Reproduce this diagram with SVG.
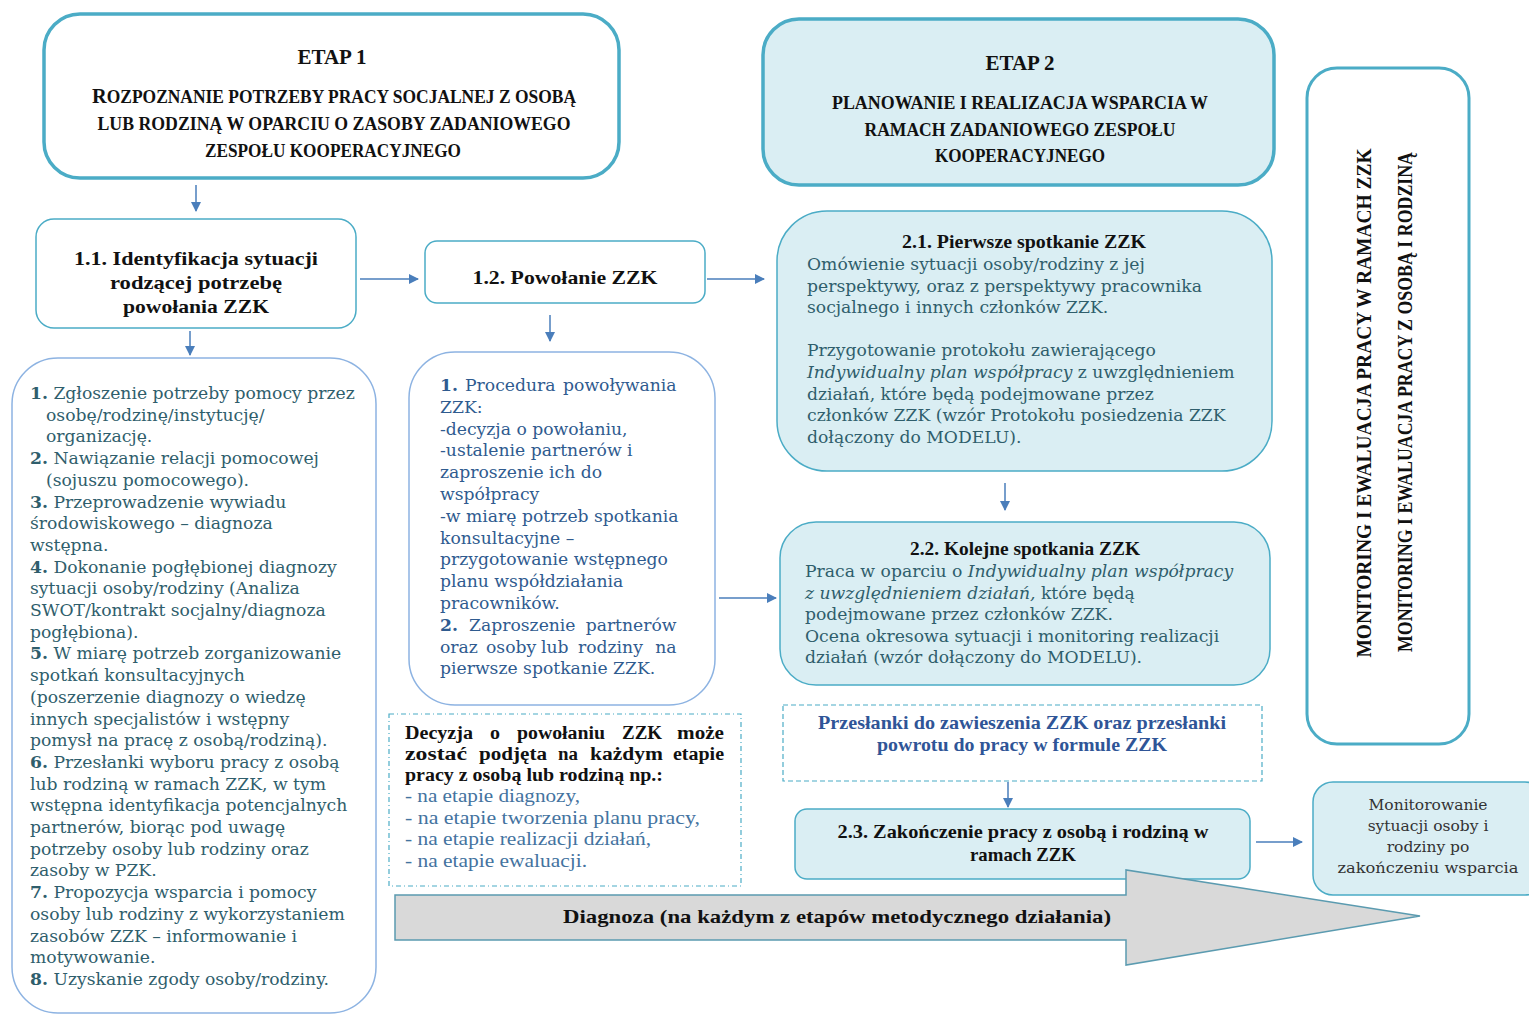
<svg xmlns="http://www.w3.org/2000/svg" width="1529" height="1015" viewBox="0 0 1529 1015">
  <defs>
    <marker id="arr" viewBox="0 0 10 10" refX="9" refY="5" markerWidth="10" markerHeight="10" markerUnits="userSpaceOnUse" orient="auto">
      <path d="M0,0 L10,5 L0,10 Z" fill="#4a7ebb"/>
    </marker>
    <style>
      .stage { fill: #ffffff; stroke: #4bacc6; stroke-width: 3.5; }
      .stage2 { fill: #daeef3; stroke: #4bacc6; stroke-width: 3.5; }
      .plain { fill: #ffffff; stroke: #4bacc6; stroke-width: 1.5; }
      .soft { fill: #ffffff; stroke: #8db3e2; stroke-width: 1.5; }
      .tint { fill: #daeef3; stroke: #4bacc6; stroke-width: 1.5; }
      .dash { fill: #ffffff; stroke: #4bacc6; stroke-width: 1.2; stroke-dasharray: 5 3 1 3; }
      .dash2 { fill: #ffffff; stroke: #4bacc6; stroke-width: 1.2; stroke-dasharray: 5 3; }
      .conn { stroke: #4a7ebb; stroke-width: 1.5; fill: none; marker-end: url(#arr); }
      .h { font-family: "Liberation Serif", "DejaVu Serif", serif; font-weight: bold; fill: #111111; }
      .b { font-family: "DejaVu Serif", "Liberation Serif", serif; font-size: 17.2px; }
      .teal { fill: #2f5e6c; }
      .blue { fill: #2f5b8f; }
      .num { font-weight: bold; }
      .c { text-anchor: middle; }
    </style>
  </defs>

  <!-- ETAP 1 -->
  <g id="etap1">
    <rect class="stage" x="44" y="14" width="575" height="164" rx="36"/>
    <text class="h c" x="332" y="64" font-size="21">ETAP 1</text>
    <text class="h c" x="334" y="103" font-size="18" textLength="484" lengthAdjust="spacingAndGlyphs"><tspan font-size="21">R</tspan>OZPOZNANIE POTRZEBY PRACY SOCJALNEJ Z OSOBĄ</text>
    <text class="h c" x="334" y="130" font-size="18" textLength="473" lengthAdjust="spacingAndGlyphs">LUB RODZINĄ W OPARCIU O ZASOBY ZADANIOWEGO</text>
    <text class="h c" x="333" y="157" font-size="18" textLength="256" lengthAdjust="spacingAndGlyphs">ZESPOŁU KOOPERACYJNEGO</text>
  </g>

  <!-- ETAP 2 -->
  <g id="etap2">
    <rect class="stage2" x="763" y="19" width="511" height="166" rx="36"/>
    <text class="h c" x="1020" y="70" font-size="21">ETAP 2</text>
    <text class="h c" x="1020" y="109" font-size="18" textLength="376" lengthAdjust="spacingAndGlyphs">PLANOWANIE I REALIZACJA WSPARCIA W</text>
    <text class="h c" x="1020" y="136" font-size="18" textLength="311" lengthAdjust="spacingAndGlyphs">RAMACH ZADANIOWEGO ZESPOŁU</text>
    <text class="h c" x="1020" y="162" font-size="18" textLength="170" lengthAdjust="spacingAndGlyphs">KOOPERACYJNEGO</text>
  </g>

  <!-- 1.1 -->
  <g id="n11">
    <rect class="plain" x="36" y="219" width="320" height="109" rx="18"/>
    <text class="h c" x="196" y="265" font-size="19" textLength="244" lengthAdjust="spacingAndGlyphs">1.1. Identyfikacja sytuacji</text>
    <text class="h c" x="196" y="289" font-size="19" textLength="172" lengthAdjust="spacingAndGlyphs">rodzącej potrzebę</text>
    <text class="h c" x="196" y="313" font-size="19" textLength="146" lengthAdjust="spacingAndGlyphs">powołania ZZK</text>
  </g>

  <!-- 1.2 -->
  <g id="n12">
    <rect class="plain" x="425" y="241" width="280" height="62" rx="12"/>
    <text class="h c" x="565" y="284" font-size="19" textLength="185" lengthAdjust="spacingAndGlyphs">1.2. Powołanie ZZK</text>
  </g>

  <!-- list of steps, stage 1 -->
  <g id="steps1">
    <rect class="soft" x="12" y="358" width="364" height="655" rx="46"/>
    <text class="b teal">
      <tspan x="30" y="399"><tspan class="num">1.</tspan> Zgłoszenie potrzeby pomocy przez</tspan>
      <tspan x="46" dy="21.7">osobę/rodzinę/instytucję/</tspan>
      <tspan x="46" dy="21.7">organizację.</tspan>
      <tspan x="30" dy="21.7"><tspan class="num">2.</tspan> Nawiązanie relacji pomocowej</tspan>
      <tspan x="46" dy="21.7">(sojuszu pomocowego).</tspan>
      <tspan x="30" dy="21.7"><tspan class="num">3.</tspan> Przeprowadzenie wywiadu</tspan>
      <tspan x="30" dy="21.7">środowiskowego – diagnoza</tspan>
      <tspan x="30" dy="21.7">wstępna.</tspan>
      <tspan x="30" dy="21.7"><tspan class="num">4.</tspan> Dokonanie pogłębionej diagnozy</tspan>
      <tspan x="30" dy="21.7">sytuacji osoby/rodziny (Analiza</tspan>
      <tspan x="30" dy="21.7">SWOT/kontrakt socjalny/diagnoza</tspan>
      <tspan x="30" dy="21.7">pogłębiona).</tspan>
      <tspan x="30" dy="21.7"><tspan class="num">5.</tspan> W miarę potrzeb zorganizowanie</tspan>
      <tspan x="30" dy="21.7">spotkań konsultacyjnych</tspan>
      <tspan x="30" dy="21.7">(poszerzenie diagnozy o wiedzę</tspan>
      <tspan x="30" dy="21.7">innych specjalistów i wstępny</tspan>
      <tspan x="30" dy="21.7">pomysł na pracę z osobą/rodziną).</tspan>
      <tspan x="30" dy="21.7"><tspan class="num">6.</tspan> Przesłanki wyboru pracy z osobą</tspan>
      <tspan x="30" dy="21.7">lub rodziną w ramach ZZK, w tym</tspan>
      <tspan x="30" dy="21.7">wstępna identyfikacja potencjalnych</tspan>
      <tspan x="30" dy="21.7">partnerów, biorąc pod uwagę</tspan>
      <tspan x="30" dy="21.7">potrzeby osoby lub rodziny oraz</tspan>
      <tspan x="30" dy="21.7">zasoby w PZK.</tspan>
      <tspan x="30" dy="21.7"><tspan class="num">7.</tspan> Propozycja wsparcia i pomocy</tspan>
      <tspan x="30" dy="21.7">osoby lub rodziny z wykorzystaniem</tspan>
      <tspan x="30" dy="21.7">zasobów ZZK – informowanie i</tspan>
      <tspan x="30" dy="21.7">motywowanie.</tspan>
      <tspan x="30" dy="21.7"><tspan class="num">8.</tspan> Uzyskanie zgody osoby/rodziny.</tspan>
    </text>
  </g>

  <!-- procedure of appointing the team -->
  <g id="steps12">
    <rect class="soft" x="409" y="352" width="306" height="353" rx="46"/>
    <text class="b blue">
      <tspan x="440" y="391" class="num">1.</tspan><tspan x="465" y="391">Procedura</tspan><tspan x="682" y="391" text-anchor="end">powoływania</tspan>
      <tspan x="440" y="412.8">ZZK:</tspan>
      <tspan x="440" y="434.6">-decyzja o powołaniu,</tspan>
      <tspan x="440" y="456.4">-ustalenie partnerów i</tspan>
      <tspan x="440" y="478.2">zaproszenie ich do</tspan>
      <tspan x="440" y="500">współpracy</tspan>
      <tspan x="440" y="521.8">-w miarę potrzeb spotkania</tspan>
      <tspan x="440" y="543.6">konsultacyjne –</tspan>
      <tspan x="440" y="565.4">przygotowanie wstępnego</tspan>
      <tspan x="440" y="587.2">planu współdziałania</tspan>
      <tspan x="440" y="609">pracowników.</tspan>
      <tspan x="440" y="630.8" class="num">2.</tspan><tspan x="469" y="630.8">Zaproszenie</tspan><tspan x="682" y="630.8" text-anchor="end">partnerów</tspan>
      <tspan x="440" y="652.6">oraz</tspan><tspan x="486" y="652.6">osoby</tspan><tspan x="541" y="652.6">lub</tspan><tspan x="578" y="652.6">rodziny</tspan><tspan x="682" y="652.6" text-anchor="end">na</tspan>
      <tspan x="440" y="674.4">pierwsze spotkanie ZZK.</tspan>
    </text>
  </g>

  <!-- 2.1 -->
  <g id="n21">
    <rect class="tint" x="777" y="211" width="495" height="260" rx="50"/>
    <text class="h c" x="1024" y="248" font-size="19" textLength="244" lengthAdjust="spacingAndGlyphs">2.1. Pierwsze spotkanie ZZK</text>
    <text class="b teal">
      <tspan x="807" y="270">Omówienie sytuacji osoby/rodziny z jej</tspan>
      <tspan x="807" y="291.6">perspektywy, oraz z perspektywy pracownika</tspan>
      <tspan x="807" y="313.2">socjalnego i innych członków ZZK.</tspan>
      <tspan x="807" y="356.4">Przygotowanie protokołu zawierającego</tspan>
      <tspan x="807" y="378"><tspan font-style="italic">Indywidualny plan współpracy</tspan> z uwzględnieniem</tspan>
      <tspan x="807" y="399.6">działań, które będą podejmowane przez</tspan>
      <tspan x="807" y="421.2">członków ZZK (wzór Protokołu posiedzenia ZZK</tspan>
      <tspan x="807" y="442.8">dołączony do MODELU).</tspan>
    </text>
  </g>

  <!-- 2.2 -->
  <g id="n22">
    <rect class="tint" x="780" y="522" width="490" height="163" rx="36"/>
    <text class="h c" x="1025" y="555" font-size="19" textLength="230" lengthAdjust="spacingAndGlyphs">2.2. Kolejne spotkania ZZK</text>
    <text class="b teal">
      <tspan x="805" y="577">Praca w oparciu o <tspan font-style="italic">Indywidualny plan współpracy</tspan></tspan>
      <tspan x="805" y="598.6" font-style="italic">z uwzględnieniem działań,</tspan><tspan font-style="normal"> które będą</tspan>
      <tspan x="805" y="620.2">podejmowane przez członków ZZK.</tspan>
      <tspan x="805" y="641.8">Ocena okresowa sytuacji i monitoring realizacji</tspan>
      <tspan x="805" y="663.4">działań (wzór dołączony do MODELU).</tspan>
    </text>
  </g>

  <!-- suspension / return conditions -->
  <g id="suspension">
    <rect class="dash2" x="783" y="705" width="479" height="76"/>
    <text class="h c" x="1022" y="729" font-size="19" style="fill:#2f5597" textLength="408" lengthAdjust="spacingAndGlyphs">Przesłanki do zawieszenia ZZK oraz przesłanki</text>
    <text class="h c" x="1022" y="751" font-size="19" style="fill:#2f5597" textLength="290" lengthAdjust="spacingAndGlyphs">powrotu do pracy w formule ZZK</text>
  </g>

  <!-- 2.3 -->
  <g id="n23">
    <rect class="tint" x="795" y="809" width="455" height="70" rx="12"/>
    <text class="h c" x="1023" y="838" font-size="19" textLength="371" lengthAdjust="spacingAndGlyphs">2.3. Zakończenie pracy z osobą i rodziną w</text>
    <text class="h c" x="1023" y="861" font-size="19" textLength="106" lengthAdjust="spacingAndGlyphs">ramach ZZK</text>
  </g>

  <!-- decision note (justified words placed one by one) -->
  <g id="decision">
    <rect class="dash" x="389" y="714" width="352" height="172"/>
    <g class="h" font-size="18">
      <text x="405" y="739" textLength="68" lengthAdjust="spacingAndGlyphs">Decyzja</text>
      <text x="490" y="739" textLength="10" lengthAdjust="spacingAndGlyphs">o</text>
      <text x="517" y="739" textLength="88" lengthAdjust="spacingAndGlyphs">powołaniu</text>
      <text x="622" y="739" textLength="40" lengthAdjust="spacingAndGlyphs">ZZK</text>
      <text x="677" y="739" textLength="47" lengthAdjust="spacingAndGlyphs">może</text>
      <text x="405" y="760" textLength="62" lengthAdjust="spacingAndGlyphs">zostać</text>
      <text x="479" y="760" textLength="68" lengthAdjust="spacingAndGlyphs">podjęta</text>
      <text x="558" y="760" textLength="20" lengthAdjust="spacingAndGlyphs">na</text>
      <text x="590" y="760" textLength="73" lengthAdjust="spacingAndGlyphs">każdym</text>
      <text x="673" y="760" textLength="51" lengthAdjust="spacingAndGlyphs">etapie</text>
      <text x="405" y="781" textLength="258" lengthAdjust="spacingAndGlyphs">pracy z osobą lub rodziną np.:</text>
    </g>
    <g font-family="Liberation Serif, DejaVu Serif, serif" font-size="18" fill="#44739f">
      <text x="405" y="802" textLength="175" lengthAdjust="spacingAndGlyphs">- na etapie diagnozy,</text>
      <text x="405" y="824" textLength="295" lengthAdjust="spacingAndGlyphs">- na etapie tworzenia planu pracy,</text>
      <text x="405" y="845" textLength="246" lengthAdjust="spacingAndGlyphs">- na etapie realizacji działań,</text>
      <text x="405" y="867" textLength="182" lengthAdjust="spacingAndGlyphs">- na etapie ewaluacji.</text>
    </g>
  </g>

  <!-- monitoring and evaluation column -->
  <g id="monitoring">
    <rect x="1307" y="68" width="162" height="676" rx="30" fill="#ffffff" stroke="#4bacc6" stroke-width="3"/>
    <text class="h c" transform="rotate(-90 1371 403)" x="1371" y="403" font-size="21" textLength="509" lengthAdjust="spacingAndGlyphs">MONITORING I EWALUACJA PRACY W RAMACH ZZK</text>
    <text class="h c" transform="rotate(-90 1412 402)" x="1412" y="402" font-size="21" style="font-weight:600" textLength="500" lengthAdjust="spacingAndGlyphs">MONITORING I EWALUACJA PRACY Z OSOBĄ I RODZINĄ</text>
  </g>

  <!-- after-support monitoring -->
  <g id="after">
    <rect class="tint" x="1313" y="782" width="232" height="113" rx="20"/>
    <g font-family="DejaVu Serif, Liberation Serif, serif" font-size="15.5" fill="#333333" text-anchor="middle">
      <text x="1428" y="810">Monitorowanie</text>
      <text x="1428" y="831">sytuacji osoby i</text>
      <text x="1428" y="852">rodziny po</text>
      <text x="1428" y="873" textLength="181" lengthAdjust="spacingAndGlyphs">zakończeniu wsparcia</text>
    </g>
  </g>

  <!-- connectors -->
  <g id="connectors">
    <line class="conn" x1="196" y1="185" x2="196" y2="211"/>
    <line class="conn" x1="360" y1="279" x2="418" y2="279"/>
    <line class="conn" x1="707" y1="279" x2="764" y2="279"/>
    <line class="conn" x1="190" y1="331" x2="190" y2="355"/>
    <line class="conn" x1="550" y1="315" x2="550" y2="341"/>
    <line class="conn" x1="719" y1="598" x2="776" y2="598"/>
    <line class="conn" x1="1005" y1="483" x2="1005" y2="510"/>
    <line class="conn" x1="1008" y1="782" x2="1008" y2="807"/>
    <line class="conn" x1="1256" y1="842" x2="1302" y2="842"/>
  </g>

  <!-- diagnosis arrow running under all stages -->
  <g id="diagnosis">
    <polygon points="395,895 1126,895 1126,870 1420,916 1126,965 1126,940 395,940" fill="#d9d9d9" stroke="#5b9bb0" stroke-width="1.5"/>
    <text class="h c" x="837" y="923" font-size="19" textLength="548" lengthAdjust="spacingAndGlyphs">Diagnoza (na każdym z etapów metodycznego działania)</text>
  </g>
</svg>
